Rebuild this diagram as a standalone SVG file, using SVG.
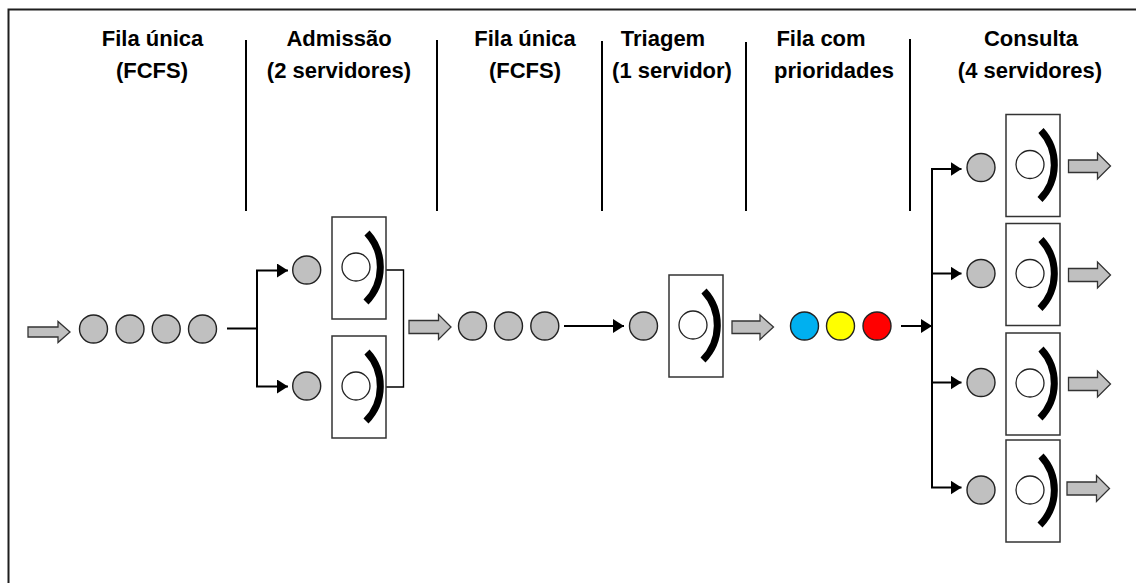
<svg xmlns="http://www.w3.org/2000/svg" xmlns:xlink="http://www.w3.org/1999/xlink" width="1136" height="583" viewBox="0 0 1136 583">
  <style>
    .title { font-family: "Liberation Sans", Arial, sans-serif; font-weight: bold; font-size: 22px; fill: #000; text-anchor: middle; }
    .frame { fill: none; stroke: #1e1e1e; stroke-width: 2; }
    .divider { stroke: #000; stroke-width: 2; }
    .client { fill: #c0c0c0; stroke: #222; stroke-width: 1.4; }
    .box { fill: #fff; stroke: #333; stroke-width: 1.5; }
    .inner { fill: #fff; stroke: #222; stroke-width: 1.3; }
    .crescent { fill: none; stroke: #000; stroke-width: 7; }
    .link { fill: none; stroke: #000; stroke-width: 2; }
    .thin { fill: none; stroke: #000; stroke-width: 1.4; }
    .flow { fill: #c0c0c0; stroke: #333; stroke-width: 1.3; stroke-linejoin: miter; }
  </style>
  <defs>
    <marker id="head" markerUnits="userSpaceOnUse" markerWidth="12" markerHeight="15" refX="11" refY="7" orient="auto">
      <path d="M0,0 L11,7 L0,14 Z" fill="#000"/>
    </marker>
    <!-- server: box with the client being served and the service "bracket" -->
    <g id="server">
      <rect class="box" x="0" y="0" width="54" height="102"/>
      <circle class="inner" cx="24" cy="50" r="14"/>
      <path class="crescent" d="M35,16 A50,50 0 0 1 34,85"/>
    </g>
  </defs>

  <rect width="1136" height="583" fill="#fff"/>

  <!-- outer frame (top and left edges) -->
  <path class="frame" d="M8.5,583 L8.5,9.5 L1136,9.5"/>

  <!-- section dividers -->
  <g id="dividers">
    <line class="divider" x1="246" y1="40" x2="246" y2="211"/>
    <line class="divider" x1="437" y1="40" x2="437" y2="211"/>
    <line class="divider" x1="602" y1="41" x2="602" y2="211"/>
    <line class="divider" x1="746" y1="42" x2="746" y2="211"/>
    <line class="divider" x1="910" y1="39" x2="910" y2="211"/>
  </g>

  <!-- section titles -->
  <g id="titles">
    <text class="title" x="152.5" y="45.5">Fila única</text>
    <text class="title" x="152" y="78">(FCFS)</text>
    <text class="title" x="339" y="45.5">Admissão</text>
    <text class="title" x="339" y="78">(2 servidores)</text>
    <text class="title" x="525" y="45.5">Fila única</text>
    <text class="title" x="525" y="78">(FCFS)</text>
    <text class="title" x="663" y="45.5">Triagem</text>
    <text class="title" x="672" y="78">(1 servidor)</text>
    <text class="title" x="821" y="45.5">Fila com</text>
    <text class="title" x="834" y="78">prioridades</text>
    <text class="title" x="1031" y="45.5">Consulta</text>
    <text class="title" x="1030" y="78">(4 servidores)</text>
  </g>

  <!-- connectors -->
  <g id="connectors">
    <!-- arrivals -->
    <path class="flow" d="M28,327 L58,327 L58,321.5 L70,332 L58,342.5 L58,337 L28,337 Z"/>
    <!-- split to the two admission servers -->
    <path class="link" d="M227,328.5 L257,328.5"/>
    <path class="link" d="M257,270.5 L257,386.5"/>
    <path class="link" d="M256,270.5 L288,270.5" marker-end="url(#head)"/>
    <path class="link" d="M256,386.5 L288,386.5" marker-end="url(#head)"/>
    <!-- merge after admission -->
    <path class="thin" d="M386,270 L403.5,270 L403.5,387 L386,387"/>
    <path class="flow" d="M409,320.5 L438.5,320.5 L438.5,314.5 L451,327 L438.5,339.5 L438.5,333.5 L409,333.5 Z"/>
    <!-- to triage -->
    <path class="link" d="M564,326 L624,326" marker-end="url(#head)"/>
    <!-- after triage -->
    <path class="flow" d="M732,321 L760,321 L760,315 L773.5,327 L760,339.5 L760,333.5 L732,333.5 Z"/>
    <!-- split to the four consultation servers -->
    <path class="link" d="M901,326 L932,326" marker-end="url(#head)"/>
    <path class="link" d="M932,168.5 L932,488"/>
    <path class="link" d="M931,169 L961.5,169" marker-end="url(#head)"/>
    <path class="link" d="M931,273.5 L961.5,273.5" marker-end="url(#head)"/>
    <path class="link" d="M931,382.5 L961.5,382.5" marker-end="url(#head)"/>
    <path class="link" d="M931,487.5 L961.5,487.5" marker-end="url(#head)"/>
    <!-- departures -->
    <path class="flow" d="M1068.5,160 L1097.5,160 L1097.5,153 L1110.5,166 L1097.5,179 L1097.5,172.5 L1068.5,172.5 Z"/>
    <path class="flow" d="M1068.5,268.5 L1097.5,268.5 L1097.5,262 L1110.5,275 L1097.5,288 L1097.5,281.5 L1068.5,281.5 Z"/>
    <path class="flow" d="M1068.5,377.5 L1097.5,377.5 L1097.5,371 L1110.5,384 L1097.5,397 L1097.5,390.5 L1068.5,390.5 Z"/>
    <path class="flow" d="M1067,482 L1096.5,482 L1096.5,475.5 L1109.5,488.5 L1096.5,501.5 L1096.5,495 L1067,495 Z"/>
  </g>

  <!-- first single queue (FCFS) -->
  <g id="queue1">
    <circle class="client" cx="93.5" cy="329" r="14"/>
    <circle class="client" cx="130" cy="329" r="14"/>
    <circle class="client" cx="166.2" cy="329" r="14"/>
    <circle class="client" cx="202.5" cy="329" r="14"/>
  </g>

  <!-- admission: 2 servers -->
  <g id="admission1">
    <circle class="client" cx="306.7" cy="270" r="14"/>
    <use xlink:href="#server" href="#server" x="332" y="217"/>
  </g>
  <g id="admission2">
    <circle class="client" cx="306.7" cy="386" r="14"/>
    <use xlink:href="#server" href="#server" x="332" y="336"/>
  </g>

  <!-- second single queue (FCFS) -->
  <g id="queue2">
    <circle class="client" cx="472.5" cy="326" r="14"/>
    <circle class="client" cx="508.5" cy="326" r="14"/>
    <circle class="client" cx="544.8" cy="326" r="14"/>
  </g>

  <!-- triage: 1 server -->
  <g id="triage">
    <circle class="client" cx="643.5" cy="326" r="14"/>
    <use xlink:href="#server" href="#server" x="669" y="275"/>
  </g>

  <!-- priority queue -->
  <g id="priorityQueue">
    <circle class="client" cx="804.5" cy="326" r="14" style="fill:#00b0f0"/>
    <circle class="client" cx="840.5" cy="326" r="14" style="fill:#ffff00"/>
    <circle class="client" cx="877" cy="326" r="14" style="fill:#ff0000"/>
  </g>

  <!-- consultation: 4 servers -->
  <g id="consult1">
    <circle class="client" cx="981" cy="167.5" r="14"/>
    <use xlink:href="#server" href="#server" x="1006" y="114.5"/>
  </g>
  <g id="consult2">
    <circle class="client" cx="981" cy="273.5" r="14"/>
    <use xlink:href="#server" href="#server" x="1006" y="223.5"/>
  </g>
  <g id="consult3">
    <circle class="client" cx="981" cy="382.5" r="14"/>
    <use xlink:href="#server" href="#server" x="1006" y="333"/>
  </g>
  <g id="consult4">
    <circle class="client" cx="981" cy="490" r="14"/>
    <use xlink:href="#server" href="#server" x="1006" y="440"/>
  </g>
</svg>
